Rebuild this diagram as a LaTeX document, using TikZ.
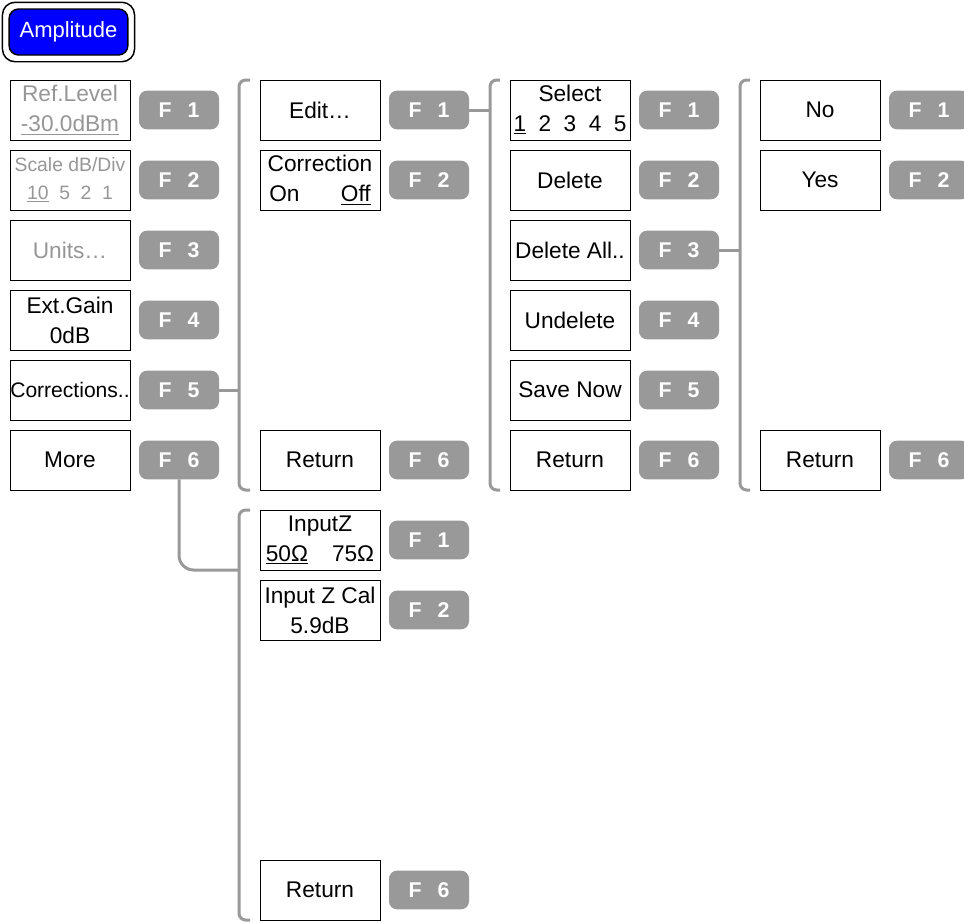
\documentclass[tikz,border=0pt]{standalone}
\usepackage{fontspec}
\setmainfont{Liberation Sans}
\usetikzlibrary{positioning, calc}
\definecolor{keygray}{RGB}{153, 153, 153}
\definecolor{dimtext}{RGB}{150, 150, 150}
\definecolor{ampblue}{RGB}{0, 0, 255}

\begin{document}
\begin{tikzpicture}[x=0.75pt, y=-0.75pt,
      menubox/.style={draw=black, line width=0.75pt, minimum width=90pt, minimum height=45pt,
                      inner sep=0pt, outer sep=0pt, align=center, font=\fontsize{17}{22.5}\selectfont},
      fkey/.style={fill=keygray, rounded corners=6pt, minimum width=60pt, minimum height=29pt,
                   inner sep=0pt, outer sep=0pt, text=white, font=\fontsize{16}{18}\selectfont\bfseries},
      dim/.style={text=dimtext},
      bracket/.style={draw=keygray, line width=2.25pt, rounded corners=5pt},
      link/.style={draw=keygray, line width=2.25pt, rounded corners=11pt}]
    \useasboundingbox (0,0) rectangle (964,922);

    \node[fill=ampblue, draw=black, line width=1.1pt, rounded corners=7pt, minimum width=89pt,
          minimum height=34.5pt, inner sep=0pt, text=white, font=\fontsize{16.5}{20}\selectfont]
          (amp) at (68.5,32) {Amplitude};
    \draw[line width=1.1pt, rounded corners=9.5pt] ($(amp.north west)+(-6,-6)$) rectangle ($(amp.south east)+(6,6)$);

    \node[menubox, dim] (reflevel) at (70,110) {Ref.Level\\\underline{-30.0dBm}};
    \node[menubox, dim, below=7.5pt of reflevel, font=\fontsize{14.5}{21}\selectfont] (scale)
          {Scale dB/Div\\\underline{10}\hspace{8pt}5\hspace{8pt}2\hspace{8pt}1};
    \node[menubox, dim, below=7.5pt of scale] (units) {Units\ldots};
    \node[menubox, below=7.5pt of units] (extgain) {Ext.Gain\\0dB};
    \node[menubox, below=7.5pt of extgain, font=\fontsize{15.8}{22.5}\selectfont] (corr) {Corrections..};
    \node[menubox, below=7.5pt of corr] (more) {More};

    \node[fkey, right=6.75pt of reflevel] (a1) {F\hspace{0.75em}1};
    \node[fkey, right=6.75pt of scale] (a2) {F\hspace{0.75em}2};
    \node[fkey, right=6.75pt of units] (a3) {F\hspace{0.75em}3};
    \node[fkey, right=6.75pt of extgain] (a4) {F\hspace{0.75em}4};
    \node[fkey, right=6.75pt of corr] (a5) {F\hspace{0.75em}5};
    \node[fkey, right=6.75pt of more] (a6) {F\hspace{0.75em}6};

    \node[menubox] (edit) at (320,110) {Edit\ldots};
    \node[menubox, below=7.5pt of edit] (correction) {Correction\\On\hspace{31pt}\underline{Off}};
    \node[menubox] (retb) at (320,460) {Return};
    \node[fkey, right=6.75pt of edit] (b1) {F\hspace{0.75em}1};
    \node[fkey, right=6.75pt of correction] (b2) {F\hspace{0.75em}2};
    \node[fkey, right=6.75pt of retb] (b6) {F\hspace{0.75em}6};

    \node[menubox] (select) at (570,110)
          {Select\\\underline{1}\hspace{0.55em}2\hspace{0.55em}3\hspace{0.55em}4\hspace{0.55em}5};
    \node[menubox, below=7.5pt of select] (delete) {Delete};
    \node[menubox, below=7.5pt of delete] (delall) {Delete All..};
    \node[menubox, below=7.5pt of delall] (undelete) {Undelete};
    \node[menubox, below=7.5pt of undelete] (savenow) {Save Now};
    \node[menubox, below=7.5pt of savenow] (retc) {Return};
    \node[fkey, right=6.75pt of select] (c1) {F\hspace{0.75em}1};
    \node[fkey, right=6.75pt of delete] (c2) {F\hspace{0.75em}2};
    \node[fkey, right=6.75pt of delall] (c3) {F\hspace{0.75em}3};
    \node[fkey, right=6.75pt of undelete] (c4) {F\hspace{0.75em}4};
    \node[fkey, right=6.75pt of savenow] (c5) {F\hspace{0.75em}5};
    \node[fkey, right=6.75pt of retc] (c6) {F\hspace{0.75em}6};

    \node[menubox] (no) at (820,110) {No};
    \node[menubox, below=7.5pt of no] (yes) {Yes};
    \node[menubox] (retd) at (820,460) {Return};
    \node[fkey, right=6.75pt of no] (d1) {F\hspace{0.75em}1};
    \node[fkey, right=6.75pt of yes] (d2) {F\hspace{0.75em}2};
    \node[fkey, right=6.75pt of retd] (d6) {F\hspace{0.75em}6};

    \node[menubox] (inputz) at (320,540) {InputZ\\\underline{50Ω}\hspace{18pt}75Ω};
    \node[menubox, below=7.5pt of inputz] (zcal) {Input Z Cal\\5.9dB};
    \node[menubox] (rete) at (320,890) {Return};
    \node[fkey, right=6.75pt of inputz] (e1) {F\hspace{0.75em}1};
    \node[fkey, right=6.75pt of zcal] (e2) {F\hspace{0.75em}2};
    \node[fkey, right=6.75pt of rete] (e6) {F\hspace{0.75em}6};

    \coordinate (spineb) at ($(edit.west)+(-21,0)$);
    \coordinate (spinec) at ($(select.west)+(-20,0)$);
    \coordinate (spined) at ($(no.west)+(-20,0)$);
    \coordinate (spinee) at ($(inputz.west)+(-21,0)$);

    \draw[bracket] ($(edit.north west)+(-10,0)$) -| (spineb) |- ($(retb.south west)+(-10,0)$);
    \draw[bracket] ($(select.north west)+(-10,0)$) -| (spinec) |- ($(retc.south west)+(-10,0)$);
    \draw[bracket] ($(no.north west)+(-10,0)$) -| (spined) |- ($(retd.south west)+(-10,0)$);
    \draw[bracket] ($(inputz.north west)+(-10,0)$) -| (spinee) |- ($(rete.south west)+(-10,0)$);

    \draw[link] (a5.east) -- (a5.east -| spineb);
    \draw[link] (b1.east) -- (b1.east -| spinec);
    \draw[link] (c3.east) -- (c3.east -| spined);
    \draw[link] (a6.south) |- ($(inputz.west |- 0,570)+(-21,0)$);
  \end{tikzpicture}
\end{document}
